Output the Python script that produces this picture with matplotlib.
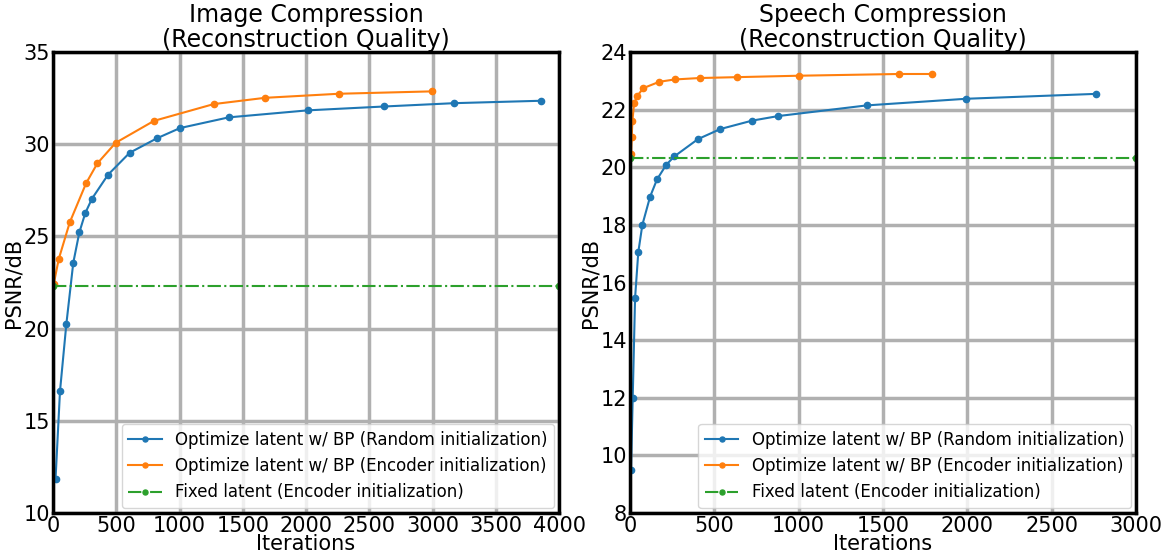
import matplotlib
matplotlib.use('Agg')
import matplotlib.pyplot as plt

# image compression runs
img_rand_it = [20, 55, 105, 160, 208, 255, 308, 435, 606, 820, 1004, 1389, 2013, 2619, 3172, 3855]
img_rand_psnr = [11.86, 16.6, 20.23, 23.57, 25.22, 26.27, 27.05, 28.35, 29.54, 30.32, 30.88,
                 31.46, 31.84, 32.05, 32.23, 32.36]
img_enc_it = [5, 45, 132, 261, 350, 495, 798, 1270, 1676, 2258, 2996]
img_enc_psnr = [22.4, 23.77, 25.76, 27.88, 28.96, 30.08, 31.27, 32.18, 32.52, 32.74, 32.87]
img_fixed_it = [0, 4000]
img_fixed_psnr = [22.33, 22.33]

# speech compression runs
sp_rand_it = [6, 16, 30, 49, 73, 119, 160, 215, 263, 403, 536, 723, 879, 1404, 1994, 2763]
sp_rand_psnr = [9.5, 12.01, 15.47, 17.05, 18.0, 18.98, 19.58, 20.09, 20.38, 20.98, 21.33,
                21.62, 21.78, 22.15, 22.38, 22.55]
sp_enc_it = [6, 10, 14, 24, 43, 79, 174, 265, 413, 632, 1000, 1593, 1789]
sp_enc_psnr = [20.45, 21.04, 21.6, 22.22, 22.48, 22.75, 22.97, 23.05, 23.1, 23.13, 23.18,
               23.24, 23.24]
sp_fixed_it = [0, 3000]
sp_fixed_psnr = [20.33, 20.33]

labels = ['Optimize latent w/ BP (Random initialization)',
          'Optimize latent w/ BP (Encoder initialization)',
          'Fixed latent (Encoder initialization)']


def do_plot(ax, title, rand, enc, fixed, xlim, ylim, xticks, yticks):
    ax.plot(rand[0], rand[1], '-o', color='tab:blue', lw=1.5, ms=4.5, label=labels[0])
    ax.plot(enc[0], enc[1], '-o', color='tab:orange', lw=1.5, ms=4.5, label=labels[1])
    ax.plot(fixed[0], fixed[1], '-.o', color='tab:green', lw=1.5, ms=4.5, label=labels[2])
    ax.set_xlim(*xlim)
    ax.set_ylim(*ylim)
    ax.set_xticks(xticks)
    ax.set_yticks(yticks)
    ax.grid(True, color='#b0b0b0', lw=2.5)
    ax.set_axisbelow(True)
    ax.tick_params(length=0, labelsize=15, pad=2)
    for sp in ax.spines.values():
        sp.set_linewidth(2.5)
        sp.set_zorder(5)
    ax.set_xlabel('Iterations', fontsize=15, labelpad=-1)
    ax.set_ylabel('PSNR/dB', fontsize=15, labelpad=0)
    ax.set_title(title, fontsize=17, pad=1, linespacing=1.05)
    ax.legend(loc='lower right', fontsize=12, borderaxespad=0.3, markerscale=0.8)


fig = plt.figure(figsize=(11.68, 5.56), dpi=100)
ax1 = fig.add_axes([0.0454, 0.0773, 0.4332, 0.829])
ax2 = fig.add_axes([0.5394, 0.0773, 0.4332, 0.829])

do_plot(ax1, 'Image Compression\n(Reconstruction Quality)',
        (img_rand_it, img_rand_psnr), (img_enc_it, img_enc_psnr), (img_fixed_it, img_fixed_psnr),
        (0, 4000), (10, 35), range(0, 4001, 500), range(10, 36, 5))
do_plot(ax2, 'Speech Compression\n(Reconstruction Quality)',
        (sp_rand_it, sp_rand_psnr), (sp_enc_it, sp_enc_psnr), (sp_fixed_it, sp_fixed_psnr),
        (0, 3000), (8, 24), range(0, 3001, 500), range(8, 25, 2))

fig.savefig('out.png', dpi=100)
